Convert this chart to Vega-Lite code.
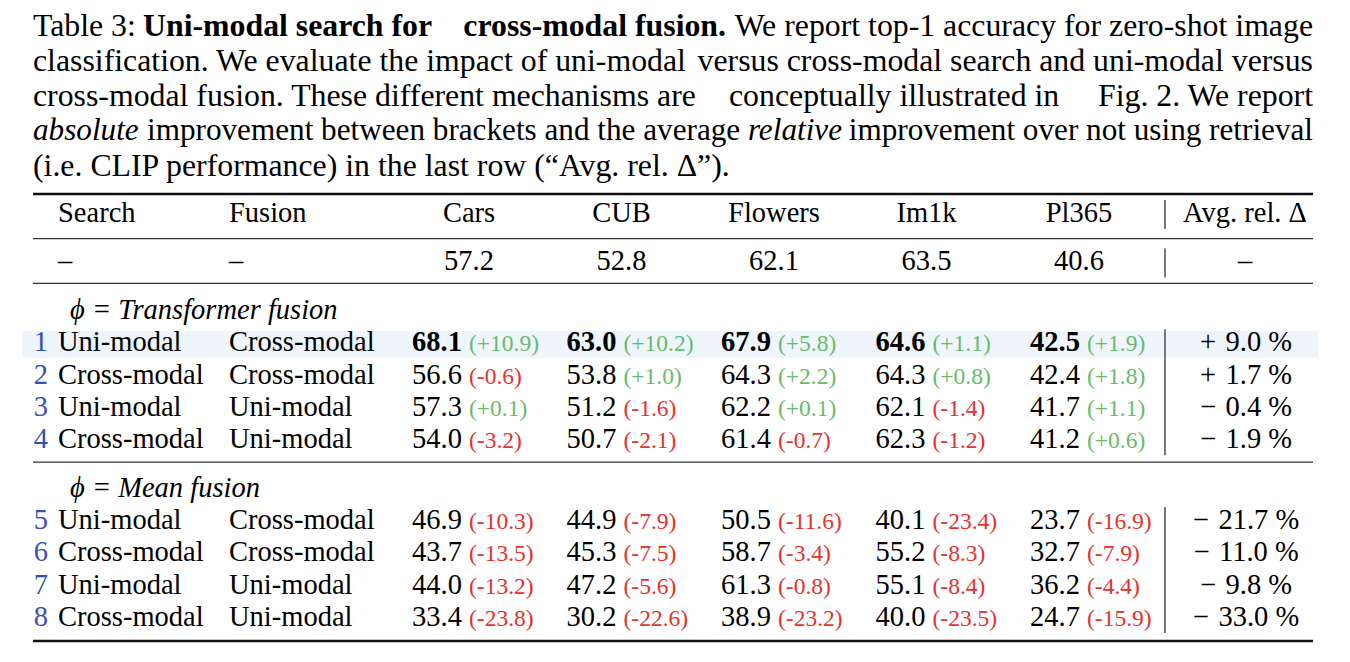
{
  "$schema": "https://vega.github.io/schema/vega-lite/v6.json",
  "width": 1350,
  "height": 662,
  "padding": 0,
  "autosize": {"type": "none"},
  "background": "white",
  "config": {
    "view": {"stroke": null},
    "axis": {"disable": true},
    "legend": {"disable": true},
    "text": {"font": "Liberation Serif", "baseline": "middle", "color": "#000000"}
  },
  "resolve": {"scale": {"x": "independent", "y": "independent", "color": "independent", "strokeWidth": "independent"}},
  "datasets": {
    "caption": [
      {"line": "l1", "style": "lead", "text": "Table 3:"},
      {"line": "l1", "style": "bold", "text": "Uni-modal search for"},
      {"line": "l1", "style": "bold-end", "text": "cross-modal fusion."},
      {"line": "l1", "style": "tail", "text": "We report top-1 accuracy for zero-shot image"},
      {"line": "l2", "style": "lead", "text": "classification. We evaluate the impact of uni-modal"},
      {"line": "l2", "style": "tail", "text": "versus cross-modal search and uni-modal versus"},
      {"line": "l3", "style": "lead", "text": "cross-modal fusion. These different mechanisms are"},
      {"line": "l3", "style": "mid-b", "text": "conceptually illustrated in"},
      {"line": "l3", "style": "tail", "text": "Fig. 2. We report"},
      {"line": "l4", "style": "lead-italic", "text": "absolute"},
      {"line": "l4", "style": "mid", "text": "improvement between brackets and the average"},
      {"line": "l4", "style": "mid-italic", "text": "relative"},
      {"line": "l4", "style": "tail4", "text": "improvement over not using retrieval"},
      {"line": "l5", "style": "lead", "text": "(i.e. CLIP performance) in the last row (“Avg. rel. Δ”)."}
    ],
    "methods": [
      {"id": 1, "row": "r1", "search": "Uni-modal", "fusion": "Cross-modal", "phi": "Transformer", "avg_rel": 9.0, "best": true},
      {"id": 2, "row": "r2", "search": "Cross-modal", "fusion": "Cross-modal", "phi": "Transformer", "avg_rel": 1.7, "best": false},
      {"id": 3, "row": "r3", "search": "Uni-modal", "fusion": "Uni-modal", "phi": "Transformer", "avg_rel": -0.4, "best": false},
      {"id": 4, "row": "r4", "search": "Cross-modal", "fusion": "Uni-modal", "phi": "Transformer", "avg_rel": -1.9, "best": false},
      {"id": 5, "row": "r5", "search": "Uni-modal", "fusion": "Cross-modal", "phi": "Mean", "avg_rel": -21.7, "best": false},
      {"id": 6, "row": "r6", "search": "Cross-modal", "fusion": "Cross-modal", "phi": "Mean", "avg_rel": -11.0, "best": false},
      {"id": 7, "row": "r7", "search": "Uni-modal", "fusion": "Uni-modal", "phi": "Mean", "avg_rel": -9.8, "best": false},
      {"id": 8, "row": "r8", "search": "Cross-modal", "fusion": "Uni-modal", "phi": "Mean", "avg_rel": -33.0, "best": false}
    ],
    "clip": [
      {"dataset": "Cars", "acc": 57.2},
      {"dataset": "CUB", "acc": 52.8},
      {"dataset": "Flowers", "acc": 62.1},
      {"dataset": "Im1k", "acc": 63.5},
      {"dataset": "Pl365", "acc": 40.6}
    ],
    "results": [
      {"row": "r1", "dataset": "Cars", "acc": 68.1, "delta": 10.9, "best": true},
      {"row": "r1", "dataset": "CUB", "acc": 63.0, "delta": 10.2, "best": true},
      {"row": "r1", "dataset": "Flowers", "acc": 67.9, "delta": 5.8, "best": true},
      {"row": "r1", "dataset": "Im1k", "acc": 64.6, "delta": 1.1, "best": true},
      {"row": "r1", "dataset": "Pl365", "acc": 42.5, "delta": 1.9, "best": true},
      {"row": "r2", "dataset": "Cars", "acc": 56.6, "delta": -0.6, "best": false},
      {"row": "r2", "dataset": "CUB", "acc": 53.8, "delta": 1.0, "best": false},
      {"row": "r2", "dataset": "Flowers", "acc": 64.3, "delta": 2.2, "best": false},
      {"row": "r2", "dataset": "Im1k", "acc": 64.3, "delta": 0.8, "best": false},
      {"row": "r2", "dataset": "Pl365", "acc": 42.4, "delta": 1.8, "best": false},
      {"row": "r3", "dataset": "Cars", "acc": 57.3, "delta": 0.1, "best": false},
      {"row": "r3", "dataset": "CUB", "acc": 51.2, "delta": -1.6, "best": false},
      {"row": "r3", "dataset": "Flowers", "acc": 62.2, "delta": 0.1, "best": false},
      {"row": "r3", "dataset": "Im1k", "acc": 62.1, "delta": -1.4, "best": false},
      {"row": "r3", "dataset": "Pl365", "acc": 41.7, "delta": 1.1, "best": false},
      {"row": "r4", "dataset": "Cars", "acc": 54.0, "delta": -3.2, "best": false},
      {"row": "r4", "dataset": "CUB", "acc": 50.7, "delta": -2.1, "best": false},
      {"row": "r4", "dataset": "Flowers", "acc": 61.4, "delta": -0.7, "best": false},
      {"row": "r4", "dataset": "Im1k", "acc": 62.3, "delta": -1.2, "best": false},
      {"row": "r4", "dataset": "Pl365", "acc": 41.2, "delta": 0.6, "best": false},
      {"row": "r5", "dataset": "Cars", "acc": 46.9, "delta": -10.3, "best": false},
      {"row": "r5", "dataset": "CUB", "acc": 44.9, "delta": -7.9, "best": false},
      {"row": "r5", "dataset": "Flowers", "acc": 50.5, "delta": -11.6, "best": false},
      {"row": "r5", "dataset": "Im1k", "acc": 40.1, "delta": -23.4, "best": false},
      {"row": "r5", "dataset": "Pl365", "acc": 23.7, "delta": -16.9, "best": false},
      {"row": "r6", "dataset": "Cars", "acc": 43.7, "delta": -13.5, "best": false},
      {"row": "r6", "dataset": "CUB", "acc": 45.3, "delta": -7.5, "best": false},
      {"row": "r6", "dataset": "Flowers", "acc": 58.7, "delta": -3.4, "best": false},
      {"row": "r6", "dataset": "Im1k", "acc": 55.2, "delta": -8.3, "best": false},
      {"row": "r6", "dataset": "Pl365", "acc": 32.7, "delta": -7.9, "best": false},
      {"row": "r7", "dataset": "Cars", "acc": 44.0, "delta": -13.2, "best": false},
      {"row": "r7", "dataset": "CUB", "acc": 47.2, "delta": -5.6, "best": false},
      {"row": "r7", "dataset": "Flowers", "acc": 61.3, "delta": -0.8, "best": false},
      {"row": "r7", "dataset": "Im1k", "acc": 55.1, "delta": -8.4, "best": false},
      {"row": "r7", "dataset": "Pl365", "acc": 36.2, "delta": -4.4, "best": false},
      {"row": "r8", "dataset": "Cars", "acc": 33.4, "delta": -23.8, "best": false},
      {"row": "r8", "dataset": "CUB", "acc": 30.2, "delta": -22.6, "best": false},
      {"row": "r8", "dataset": "Flowers", "acc": 38.9, "delta": -23.2, "best": false},
      {"row": "r8", "dataset": "Im1k", "acc": 40.0, "delta": -23.5, "best": false},
      {"row": "r8", "dataset": "Pl365", "acc": 24.7, "delta": -15.9, "best": false}
    ]
  },
  "layer": [
    {
      "data": {"values": [{"row": "r1"}]},
      "mark": {"type": "rule", "color": "#eef5fd", "strokeWidth": 27, "strokeCap": "butt", "yOffset": 2},
      "encoding": {
        "y": {"field": "row", "type": "nominal", "scale": {"type": "point", "domain": ["header","g1","g2","clip","g3","g4","transformer","g5","r1","g6","r2","g7","r3","g8","r4","g9","g10","mean","g11","r5","g12","r6","g13","r7","g14","r8"], "range": [213, 617], "padding": 0}},
        "x": {"datum": "start", "type": "nominal", "scale": {"type": "point", "domain": ["start", "end"], "range": [22, 1318], "padding": 0}},
        "x2": {"datum": "end"}
      }
    },
    {
      "data": {"values": [
        {"rule": "top", "weight": "heavy"},
        {"rule": "head", "weight": "light"},
        {"rule": "clip", "weight": "light"},
        {"rule": "group", "weight": "light"},
        {"rule": "bottom", "weight": "heavy"}
      ]},
      "mark": {"type": "rule", "strokeCap": "butt"},
      "encoding": {
        "y": {"field": "rule", "type": "nominal", "scale": {"type": "point", "domain": ["top","head","clip","s1","s2","s3","group","s4","s5","s6","bottom"], "range": [194, 641], "padding": 0}},
        "x": {"datum": "start", "type": "nominal", "scale": {"type": "point", "domain": ["start", "end"], "range": [33, 1313], "padding": 0}},
        "x2": {"datum": "end"},
        "strokeWidth": {"condition": {"test": "datum.weight === 'heavy'", "value": 2.4}, "value": 1.2},
        "color": {"condition": {"test": "datum.weight === 'heavy'", "value": "#111111"}, "value": "#333333"}
      }
    },
    {
      "data": {"values": [
        {"from": "header", "to": "header"},
        {"from": "clip", "to": "clip"},
        {"from": "r1", "to": "r4"},
        {"from": "r5", "to": "r8"}
      ]},
      "mark": {"type": "rule", "color": "#222222", "strokeWidth": 1.2, "yOffset": -13, "y2Offset": 16},
      "encoding": {
        "y": {"field": "from", "type": "nominal", "scale": {"type": "point", "domain": ["header","g1","g2","clip","g3","g4","transformer","g5","r1","g6","r2","g7","r3","g8","r4","g9","g10","mean","g11","r5","g12","r6","g13","r7","g14","r8"], "range": [213, 617], "padding": 0}},
        "y2": {"field": "to"},
        "x": {"datum": "sep", "type": "nominal", "scale": {"type": "point", "domain": ["sep"], "range": [1165, 1165], "padding": 0}}
      }
    },
    {
      "data": {"name": "caption"},
      "transform": [{"filter": "datum.style === 'lead'"}],
      "mark": {"type": "text", "align": "left", "fontSize": 31.8},
      "encoding": {
        "y": {"field": "line", "type": "nominal", "scale": {"type": "point", "domain": ["l1","l2","l3","l4","l5"], "range": [26, 166], "padding": 0}},
        "x": {"datum": "left", "type": "nominal", "scale": {"type": "point", "domain": ["left", "right"], "range": [33, 1313], "padding": 0}},
        "text": {"field": "text", "type": "nominal"}
      }
    },
    {
      "data": {"name": "caption"},
      "transform": [{"filter": "datum.style === 'tail'"}],
      "mark": {"type": "text", "align": "right", "fontSize": 31.8},
      "encoding": {
        "y": {"field": "line", "type": "nominal", "scale": {"type": "point", "domain": ["l1","l2","l3","l4","l5"], "range": [26, 166], "padding": 0}},
        "x": {"datum": "right", "type": "nominal", "scale": {"type": "point", "domain": ["left", "right"], "range": [33, 1313], "padding": 0}},
        "text": {"field": "text", "type": "nominal"}
      }
    },
    {
      "data": {"name": "caption"},
      "transform": [{"filter": "datum.style === 'bold'"}],
      "mark": {"type": "text", "align": "left", "fontSize": 31.8, "fontWeight": "bold", "dx": 110},
      "encoding": {
        "y": {"field": "line", "type": "nominal", "scale": {"type": "point", "domain": ["l1","l2","l3","l4","l5"], "range": [26, 166], "padding": 0}},
        "x": {"datum": "left", "type": "nominal", "scale": {"type": "point", "domain": ["left", "right"], "range": [33, 1313], "padding": 0}},
        "text": {"field": "text", "type": "nominal"}
      }
    },
    {
      "data": {"name": "caption"},
      "transform": [{"filter": "datum.style === 'bold-end'"}],
      "mark": {"type": "text", "align": "right", "fontSize": 31.8, "fontWeight": "bold", "dx": -587},
      "encoding": {
        "y": {"field": "line", "type": "nominal", "scale": {"type": "point", "domain": ["l1","l2","l3","l4","l5"], "range": [26, 166], "padding": 0}},
        "x": {"datum": "right", "type": "nominal", "scale": {"type": "point", "domain": ["left", "right"], "range": [33, 1313], "padding": 0}},
        "text": {"field": "text", "type": "nominal"}
      }
    },
    {
      "data": {"name": "caption"},
      "transform": [{"filter": "datum.style === 'mid-b'"}],
      "mark": {"type": "text", "align": "left", "fontSize": 31.8, "dx": 696},
      "encoding": {
        "y": {"field": "line", "type": "nominal", "scale": {"type": "point", "domain": ["l1","l2","l3","l4","l5"], "range": [26, 166], "padding": 0}},
        "x": {"datum": "left", "type": "nominal", "scale": {"type": "point", "domain": ["left", "right"], "range": [33, 1313], "padding": 0}},
        "text": {"field": "text", "type": "nominal"}
      }
    },
    {
      "data": {"name": "caption"},
      "transform": [{"filter": "datum.style === 'lead-italic'"}],
      "mark": {"type": "text", "align": "left", "fontSize": 31.2, "fontStyle": "italic"},
      "encoding": {
        "y": {"field": "line", "type": "nominal", "scale": {"type": "point", "domain": ["l1","l2","l3","l4","l5"], "range": [26, 166], "padding": 0}},
        "x": {"datum": "left", "type": "nominal", "scale": {"type": "point", "domain": ["left", "right"], "range": [33, 1313], "padding": 0}},
        "text": {"field": "text", "type": "nominal"}
      }
    },
    {
      "data": {"name": "caption"},
      "transform": [{"filter": "datum.style === 'mid'"}],
      "mark": {"type": "text", "align": "left", "fontSize": 31.2, "dx": 114},
      "encoding": {
        "y": {"field": "line", "type": "nominal", "scale": {"type": "point", "domain": ["l1","l2","l3","l4","l5"], "range": [26, 166], "padding": 0}},
        "x": {"datum": "left", "type": "nominal", "scale": {"type": "point", "domain": ["left", "right"], "range": [33, 1313], "padding": 0}},
        "text": {"field": "text", "type": "nominal"}
      }
    },
    {
      "data": {"name": "caption"},
      "transform": [{"filter": "datum.style === 'mid-italic'"}],
      "mark": {"type": "text", "align": "right", "fontSize": 31.2, "fontStyle": "italic", "dx": -471},
      "encoding": {
        "y": {"field": "line", "type": "nominal", "scale": {"type": "point", "domain": ["l1","l2","l3","l4","l5"], "range": [26, 166], "padding": 0}},
        "x": {"datum": "right", "type": "nominal", "scale": {"type": "point", "domain": ["left", "right"], "range": [33, 1313], "padding": 0}},
        "text": {"field": "text", "type": "nominal"}
      }
    },
    {
      "data": {"name": "caption"},
      "transform": [{"filter": "datum.style === 'tail4'"}],
      "mark": {"type": "text", "align": "right", "fontSize": 31.2},
      "encoding": {
        "y": {"field": "line", "type": "nominal", "scale": {"type": "point", "domain": ["l1","l2","l3","l4","l5"], "range": [26, 166], "padding": 0}},
        "x": {"datum": "right", "type": "nominal", "scale": {"type": "point", "domain": ["left", "right"], "range": [33, 1313], "padding": 0}},
        "text": {"field": "text", "type": "nominal"}
      }
    },
    {
      "data": {"values": [
        {"row": "header", "col": "search", "label": "Search"},
        {"row": "header", "col": "fusion", "label": "Fusion"},
        {"row": "clip", "col": "search", "label": "–"},
        {"row": "clip", "col": "fusion", "label": "–"}
      ]},
      "mark": {"type": "text", "align": "left", "fontSize": 28.5},
      "encoding": {
        "y": {"field": "row", "type": "nominal", "scale": {"type": "point", "domain": ["header","g1","g2","clip","g3","g4","transformer","g5","r1","g6","r2","g7","r3","g8","r4","g9","g10","mean","g11","r5","g12","r6","g13","r7","g14","r8"], "range": [213, 617], "padding": 0}},
        "x": {"field": "col", "type": "nominal", "scale": {"type": "point", "domain": ["search", "fusion"], "range": [58, 229], "padding": 0}},
        "text": {"field": "label", "type": "nominal"}
      }
    },
    {
      "data": {"name": "methods"},
      "transform": [{"fold": ["search", "fusion"], "as": ["col", "label"]}],
      "mark": {"type": "text", "align": "left", "fontSize": 28.5},
      "encoding": {
        "y": {"field": "row", "type": "nominal", "scale": {"type": "point", "domain": ["header","g1","g2","clip","g3","g4","transformer","g5","r1","g6","r2","g7","r3","g8","r4","g9","g10","mean","g11","r5","g12","r6","g13","r7","g14","r8"], "range": [213, 617], "padding": 0}},
        "x": {"field": "col", "type": "nominal", "scale": {"type": "point", "domain": ["search", "fusion"], "range": [58, 229], "padding": 0}},
        "text": {"field": "label", "type": "nominal"}
      }
    },
    {
      "data": {"name": "methods"},
      "mark": {"type": "text", "align": "right", "fontSize": 28.5, "color": "#3551b5", "dx": -10},
      "encoding": {
        "y": {"field": "row", "type": "nominal", "scale": {"type": "point", "domain": ["header","g1","g2","clip","g3","g4","transformer","g5","r1","g6","r2","g7","r3","g8","r4","g9","g10","mean","g11","r5","g12","r6","g13","r7","g14","r8"], "range": [213, 617], "padding": 0}},
        "x": {"datum": "search", "type": "nominal", "scale": {"type": "point", "domain": ["search", "fusion"], "range": [58, 229], "padding": 0}},
        "text": {"field": "id", "type": "nominal"}
      }
    },
    {
      "data": {"values": [
        {"row": "transformer", "label": "ϕ = Transformer fusion"},
        {"row": "mean", "label": "ϕ = Mean fusion"}
      ]},
      "mark": {"type": "text", "align": "left", "fontSize": 28.5, "fontStyle": "italic", "dx": 12},
      "encoding": {
        "y": {"field": "row", "type": "nominal", "scale": {"type": "point", "domain": ["header","g1","g2","clip","g3","g4","transformer","g5","r1","g6","r2","g7","r3","g8","r4","g9","g10","mean","g11","r5","g12","r6","g13","r7","g14","r8"], "range": [213, 617], "padding": 0}},
        "x": {"datum": "search", "type": "nominal", "scale": {"type": "point", "domain": ["search", "fusion"], "range": [58, 229], "padding": 0}},
        "text": {"field": "label", "type": "nominal"}
      }
    },
    {
      "data": {"values": [
        {"dataset": "Cars"}, {"dataset": "CUB"}, {"dataset": "Flowers"}, {"dataset": "Im1k"}, {"dataset": "Pl365"}
      ]},
      "mark": {"type": "text", "align": "center", "fontSize": 28.5},
      "encoding": {
        "y": {"datum": "header", "type": "nominal", "scale": {"type": "point", "domain": ["header","g1","g2","clip","g3","g4","transformer","g5","r1","g6","r2","g7","r3","g8","r4","g9","g10","mean","g11","r5","g12","r6","g13","r7","g14","r8"], "range": [213, 617], "padding": 0}},
        "x": {"field": "dataset", "type": "nominal", "scale": {"type": "point", "domain": ["Cars", "CUB", "Flowers", "Im1k", "Pl365"], "range": [469, 1079], "padding": 0}},
        "text": {"field": "dataset", "type": "nominal"}
      }
    },
    {
      "data": {"name": "clip"},
      "mark": {"type": "text", "align": "center", "fontSize": 28.5},
      "encoding": {
        "y": {"datum": "clip", "type": "nominal", "scale": {"type": "point", "domain": ["header","g1","g2","clip","g3","g4","transformer","g5","r1","g6","r2","g7","r3","g8","r4","g9","g10","mean","g11","r5","g12","r6","g13","r7","g14","r8"], "range": [213, 617], "padding": 0}},
        "x": {"field": "dataset", "type": "nominal", "scale": {"type": "point", "domain": ["Cars", "CUB", "Flowers", "Im1k", "Pl365"], "range": [469, 1079], "padding": 0}},
        "text": {"field": "acc", "type": "quantitative", "format": ".1f"}
      }
    },
    {
      "data": {"name": "results"},
      "transform": [{"filter": "!datum.best"}],
      "mark": {"type": "text", "align": "left", "fontSize": 28.5},
      "encoding": {
        "y": {"field": "row", "type": "nominal", "scale": {"type": "point", "domain": ["header","g1","g2","clip","g3","g4","transformer","g5","r1","g6","r2","g7","r3","g8","r4","g9","g10","mean","g11","r5","g12","r6","g13","r7","g14","r8"], "range": [213, 617], "padding": 0}},
        "x": {"field": "dataset", "type": "nominal", "scale": {"type": "point", "domain": ["Cars", "CUB", "Flowers", "Im1k", "Pl365"], "range": [412, 1030], "padding": 0}},
        "text": {"field": "acc", "type": "quantitative", "format": ".1f"}
      }
    },
    {
      "data": {"name": "results"},
      "transform": [{"filter": "datum.best"}],
      "mark": {"type": "text", "align": "left", "fontSize": 28.5, "fontWeight": "bold"},
      "encoding": {
        "y": {"field": "row", "type": "nominal", "scale": {"type": "point", "domain": ["header","g1","g2","clip","g3","g4","transformer","g5","r1","g6","r2","g7","r3","g8","r4","g9","g10","mean","g11","r5","g12","r6","g13","r7","g14","r8"], "range": [213, 617], "padding": 0}},
        "x": {"field": "dataset", "type": "nominal", "scale": {"type": "point", "domain": ["Cars", "CUB", "Flowers", "Im1k", "Pl365"], "range": [412, 1030], "padding": 0}},
        "text": {"field": "acc", "type": "quantitative", "format": ".1f"}
      }
    },
    {
      "data": {"name": "results"},
      "transform": [{"calculate": "'(' + (datum.delta >= 0 ? '+' : '-') + format(abs(datum.delta), '.1f') + ')'", "as": "delta_label"}],
      "mark": {"type": "text", "align": "left", "fontSize": 23.5, "dx": 57, "dy": 2},
      "encoding": {
        "y": {"field": "row", "type": "nominal", "scale": {"type": "point", "domain": ["header","g1","g2","clip","g3","g4","transformer","g5","r1","g6","r2","g7","r3","g8","r4","g9","g10","mean","g11","r5","g12","r6","g13","r7","g14","r8"], "range": [213, 617], "padding": 0}},
        "x": {"field": "dataset", "type": "nominal", "scale": {"type": "point", "domain": ["Cars", "CUB", "Flowers", "Im1k", "Pl365"], "range": [412, 1030], "padding": 0}},
        "text": {"field": "delta_label", "type": "nominal"},
        "color": {"condition": {"test": "datum.delta < 0", "value": "#e5322d"}, "value": "#67bb6a"}
      }
    },
    {
      "data": {"values": [
        {"row": "header", "label": "Avg. rel. Δ"},
        {"row": "clip", "label": "–"}
      ]},
      "mark": {"type": "text", "align": "center", "fontSize": 28.5},
      "encoding": {
        "y": {"field": "row", "type": "nominal", "scale": {"type": "point", "domain": ["header","g1","g2","clip","g3","g4","transformer","g5","r1","g6","r2","g7","r3","g8","r4","g9","g10","mean","g11","r5","g12","r6","g13","r7","g14","r8"], "range": [213, 617], "padding": 0}},
        "x": {"datum": "avg", "type": "nominal", "scale": {"type": "point", "domain": ["avg"], "range": [1245, 1245], "padding": 0}},
        "text": {"field": "label", "type": "nominal"}
      }
    },
    {
      "data": {"name": "methods"},
      "transform": [{"calculate": "(datum.avg_rel >= 0 ? '+\u2004' : '−\u2004') + format(abs(datum.avg_rel), '.1f') + ' %'", "as": "avg_label"}],
      "mark": {"type": "text", "align": "center", "fontSize": 28.5},
      "encoding": {
        "y": {"field": "row", "type": "nominal", "scale": {"type": "point", "domain": ["header","g1","g2","clip","g3","g4","transformer","g5","r1","g6","r2","g7","r3","g8","r4","g9","g10","mean","g11","r5","g12","r6","g13","r7","g14","r8"], "range": [213, 617], "padding": 0}},
        "x": {"datum": "avg", "type": "nominal", "scale": {"type": "point", "domain": ["avg"], "range": [1246, 1246], "padding": 0}},
        "text": {"field": "avg_label", "type": "nominal"},
        "fontWeight": {"condition": {"test": "datum.best", "value": "bold"}, "value": "normal"}
      }
    }
  ]
}
